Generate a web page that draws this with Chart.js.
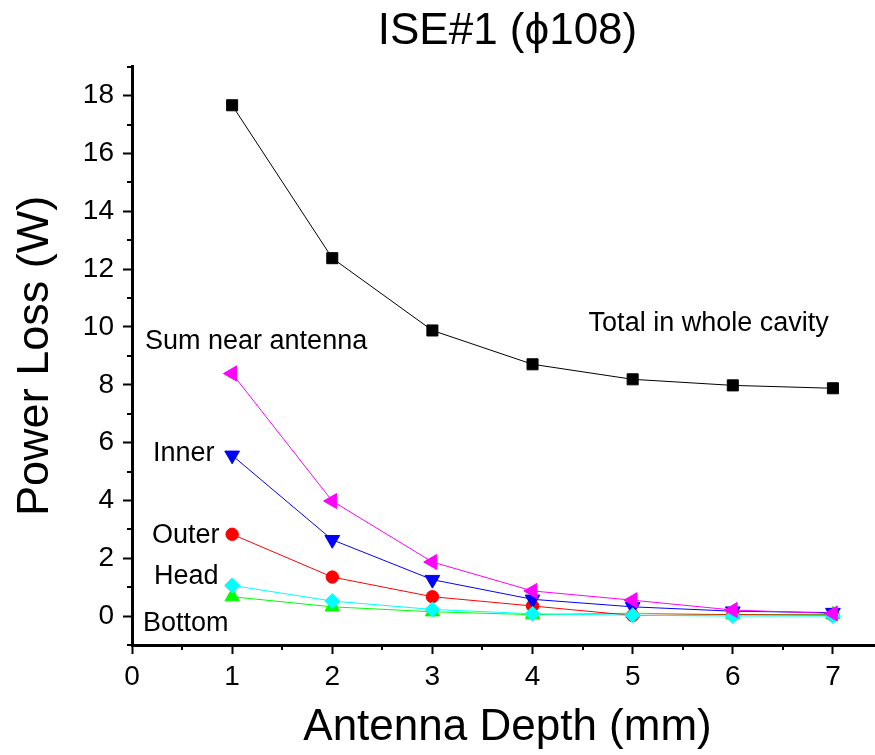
<!DOCTYPE html>
<html>
<head>
<meta charset="utf-8">
<title>ISE#1 power loss</title>
<script src="https://cdn.jsdelivr.net/npm/chart.js@4.4.1/dist/chart.umd.min.js"></script>
<style>
  html, body { margin: 0; padding: 0; background: #fff; overflow: hidden; }
  #wrap { width: 900px; height: 755px; }
</style>
</head>
<body>
<div id="wrap"><canvas id="lossChart" width="900" height="755"></canvas></div>
<script>
// antenna depth (mm)
const depth = [1, 2, 3, 4, 5, 6, 7];

// power loss (W) per region
const totalLoss  = [17.67, 12.38, 9.88, 8.71, 8.19, 7.98, 7.88];
const sumNear    = [8.39, 3.98, 1.87, 0.87, 0.55, 0.21, 0.09];
const innerLoss  = [5.56, 2.64, 1.26, 0.58, 0.32, 0.17, 0.12];
const outerLoss  = [2.83, 1.35, 0.67, 0.35, 0.02, 0.05, 0.03];
const headLoss   = [1.06, 0.52, 0.23, 0.08, 0.03, 0.00, 0.00];
const bottomLoss = [0.67, 0.32, 0.15, 0.05, 0.10, 0.05, 0.05];

// curve names written next to the lines (left edge, vertical centre, data units)
const curveNames = ["Total in whole cavity", "Sum near antenna", "Inner", "Outer", "Head", "Bottom"];
const curveNameX = [4.56, 0.13, 0.21, 0.20, 0.22, 0.11];
const curveNameY = [10.2, 9.57, 5.68, 2.87, 1.42, -0.2];

const FONT = "'Liberation Sans', Arial, sans-serif";
Chart.defaults.font.family = FONT;
Chart.defaults.color = '#000';

function series(label, values, color, style, rotation, radius) {
    return {
        label: label,
        data: depth.map((d, i) => ({ x: d, y: values[i] })),
        borderColor: color,
        backgroundColor: color,
        borderWidth: 1,
        pointStyle: style,
        pointRotation: rotation,
        pointRadius: radius,
        pointBorderColor: color,
        pointBackgroundColor: color,
        pointBorderWidth: 1,
        tension: 0
    };
}

// short ticks between the labelled ones + the curve names
const extras = {
    id: 'extras',
    afterDraw(chart) {
        const { ctx, chartArea, scales: { x, y } } = chart;
        ctx.save();
        ctx.strokeStyle = '#000';
        ctx.lineWidth = 2;
        ctx.beginPath();
        for (let v = -1; v <= 19; v += 2) {
            const py = Math.round(y.getPixelForValue(v));
            ctx.moveTo(chartArea.left, py);
            ctx.lineTo(chartArea.left - 5, py);
        }
        for (let v = 0.5; v <= 7.5; v += 1) {
            const px = Math.round(x.getPixelForValue(v));
            ctx.moveTo(px, chartArea.bottom);
            ctx.lineTo(px, chartArea.bottom + 5);
        }
        ctx.stroke();

        ctx.fillStyle = '#000';
        ctx.font = '27px ' + FONT;
        ctx.textAlign = 'left';
        ctx.textBaseline = 'middle';
        curveNames.forEach((name, i) => {
            ctx.fillText(name, x.getPixelForValue(curveNameX[i]), y.getPixelForValue(curveNameY[i]) + 2);
        });
        ctx.restore();
    }
};

new Chart(document.getElementById('lossChart'), {
    type: 'line',
    data: {
        datasets: [
            series('Sum near antenna', sumNear, '#ff00ff', 'triangle', -90, 8.7),
            series('Head', headLoss, '#00ffff', 'rectRot', 0, 7.5),
            series('Inner', innerLoss, '#0000ff', 'triangle', 180, 8.5),
            series('Outer', outerLoss, '#ff0000', 'circle', 0, 6.2),
            series('Bottom', bottomLoss, '#00ff00', 'triangle', 0, 8.3),
            series('Total in whole cavity', totalLoss, '#000000', 'rect', 0, 7.8)
        ]
    },
    options: {
        responsive: false,
        animation: false,
        layout: { padding: { left: 0, right: 17, top: 0, bottom: 0 } },
        plugins: {
            legend: { display: false },
            tooltip: { enabled: false },
            title: {
                display: true,
                text: 'ISE#1 (\u03D5108)',
                fullSize: false,
                color: '#000',
                font: { size: 44, weight: 'normal' },
                padding: { top: 5, bottom: 9 }
            }
        },
        scales: {
            x: {
                type: 'linear',
                min: 0,
                max: 7.5,
                afterFit(scale) { scale.height = 110; },
                border: { display: true, color: '#000', width: 3 },
                grid: {
                    drawOnChartArea: false,
                    tickLength: 9,
                    tickWidth: 2,
                    color: c => Number.isInteger(c.tick.value) ? '#000' : 'rgba(0,0,0,0)'
                },
                ticks: {
                    stepSize: 0.5,
                    autoSkip: false,
                    maxRotation: 0,
                    padding: 6,
                    font: { size: 28 },
                    callback: v => Number.isInteger(v) ? v : ''
                },
                title: {
                    display: true,
                    text: 'Antenna Depth (mm)',
                    font: { size: 44 },
                    padding: { top: 0, bottom: 1 }
                }
            },
            y: {
                type: 'linear',
                min: -1,
                max: 19,
                afterFit(scale) { scale.width = 132; },
                border: { display: true, color: '#000', width: 3 },
                grid: {
                    drawOnChartArea: false,
                    tickLength: 9,
                    tickWidth: 2,
                    color: c => (c.tick.value % 2 === 0) ? '#000' : 'rgba(0,0,0,0)'
                },
                ticks: {
                    stepSize: 1,
                    autoSkip: false,
                    padding: 9,
                    font: { size: 28 },
                    callback: v => (v % 2 === 0) ? v : ''
                },
                title: {
                    display: true,
                    text: 'Power Loss (W)',
                    font: { size: 45 },
                    padding: { top: 9, bottom: 0 }
                }
            }
        }
    },
    plugins: [extras]
});
</script>
</body>
</html>
